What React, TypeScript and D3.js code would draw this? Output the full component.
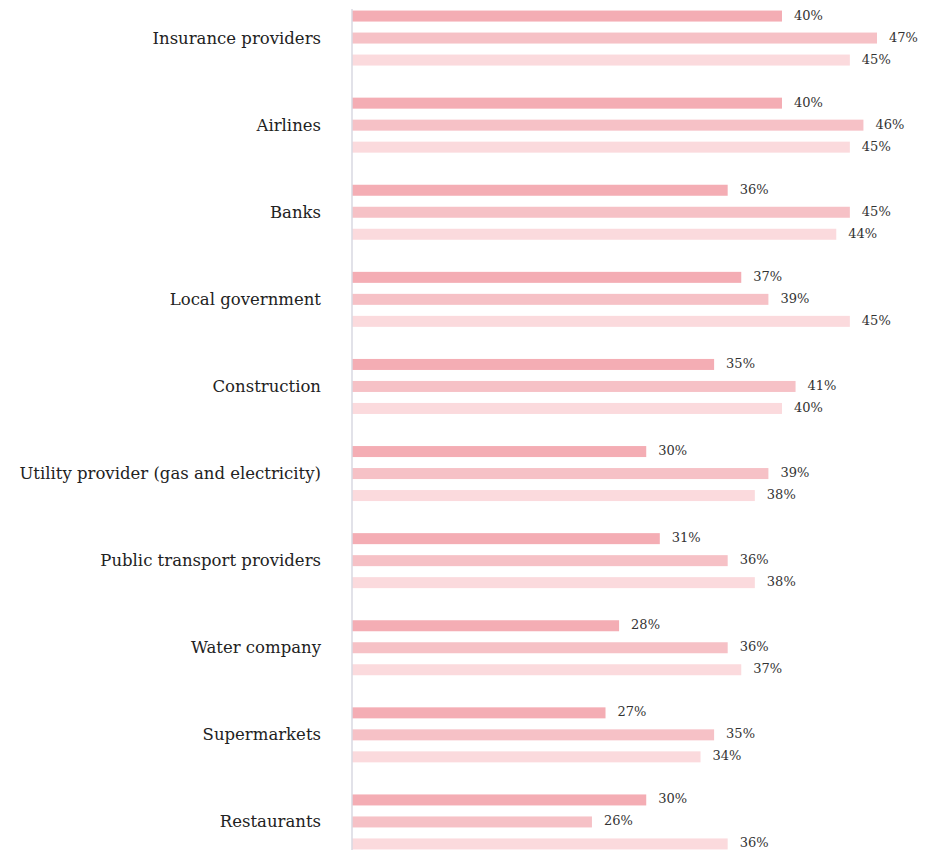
import React from "react";
import * as d3 from "d3";

const categories = [
  "Insurance providers",
  "Airlines",
  "Banks",
  "Local government",
  "Construction",
  "Utility provider (gas and electricity)",
  "Public transport providers",
  "Water company",
  "Supermarkets",
  "Restaurants",
];
const seriesA = [40, 40, 36, 37, 35, 30, 31, 28, 27, 30];
const seriesB = [47, 46, 45, 39, 41, 39, 36, 36, 35, 26];
const seriesC = [45, 45, 44, 45, 40, 38, 38, 37, 34, 36];
const seriesKeys = ["a", "b", "c"];
const colors = ["#f4adb4", "#f6c1c6", "#fbdadd"];

const W = 939;
const H = 850;

export default function App() {
  const x = d3.scaleLinear().domain([0, 47]).range([239, 877]);
  const axisX = 352;
  const y = d3.scaleBand<string>().domain(categories).range([-5.5, 865.5]).padding(0);
  const step = 22;
  const barH = 11;
  const inner = d3
    .scalePoint<string>()
    .domain(seriesKeys)
    .range([-step, step]);
  const data = [seriesA, seriesB, seriesC];
  const font = "'DejaVu Serif', 'Liberation Serif', serif";

  return (
    <svg
      width={W}
      height={H}
      style={{ position: "absolute", left: 0, top: 0, background: "#fff" }}
    >
      {categories.map((c, i) => {
        const cy = (y(c) as number) + y.bandwidth() / 2;
        return (
          <g key={c}>
            <text
              x={321}
              y={cy}
              textAnchor="end"
              dominantBaseline="central"
              fontFamily={font}
              fontSize={16.5}
              fill="#222"
            >
              {c}
            </text>
            {seriesKeys.map((k, j) => {
              const v = data[j][i];
              const by = cy + (inner(k) as number);
              return (
                <g key={k}>
                  <rect
                    x={axisX}
                    y={by - barH / 2}
                    width={x(v) - axisX}
                    height={barH}
                    fill={colors[j]}
                  />
                  <text
                    x={x(v) + 12}
                    y={by - 1}
                    dominantBaseline="central"
                    fontFamily={font}
                    fontSize={13}
                    fill="#333"
                  >
                    {v}%
                  </text>
                </g>
              );
            })}
          </g>
        );
      })}
      <line x1={axisX} x2={axisX} y1={9} y2={H} stroke="#d8d9e2" strokeWidth={1.5} />
    </svg>
  );
}
